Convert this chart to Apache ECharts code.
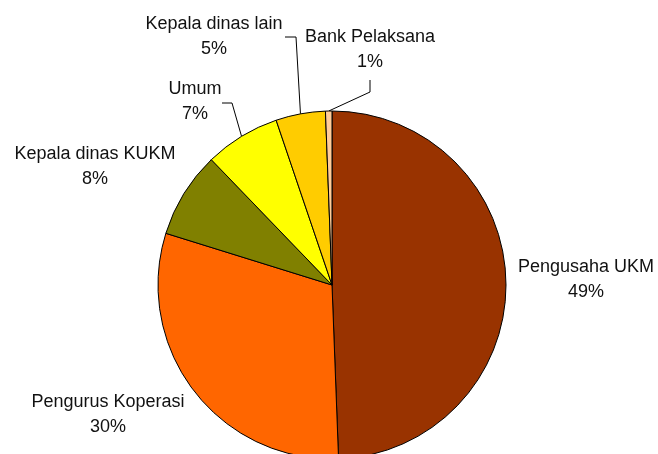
<!DOCTYPE html>
<html>
<head>
<meta charset="utf-8">
<style>
  html, body { margin: 0; padding: 0; background: #fff; }
  #chart { width: 658px; height: 454px; }
</style>
<script src="https://cdn.jsdelivr.net/npm/echarts@6/dist/echarts.min.js"></script>
</head>
<body>
<div id="chart"></div>
<script>
  // data (share of respondents, %)
  var categories = ['Pengusaha UKM', 'Pengurus Koperasi', 'Kepala dinas KUKM', 'Umum', 'Kepala dinas lain', 'Bank Pelaksana']
  var values = [49.4, 30.4, 8.0, 7.0, 4.6, 0.6]

  // styling / layout
  var colors = ['#993300', '#FF6600', '#808000', '#FFFF00', '#FFCC00', '#FFCC99']
  var labelPos = [[586, 280], [108, 415], [95, 167], [195, 102], [214, 37], [370, 50]]
  // leader line bends (after the anchor on the pie edge), null = no line
  var bends = [null, null, null, [[232, 103], [222, 103]], [[296, 37], [285, 37]], [[370, 92], [370, 80]]]

  var chart = echarts.init(document.getElementById('chart'))

  var data = []
  for (var i = 0; i < categories.length; i++) {
    data.push({
      name: categories[i],
      value: values[i],
      itemStyle: { color: colors[i] },
      labelLine: { show: !!bends[i] }
    })
  }

  var option = {
    animation: false,
    backgroundColor: '#fff',
    series: [{
      type: 'pie',
      center: [332, 285],
      radius: 174,
      startAngle: 90,
      clockwise: true,
      percentPrecision: 0,
      avoidLabelOverlap: false,
      itemStyle: { borderColor: '#000', borderWidth: 1 },
      label: {
        show: true,
        position: 'outside',
        formatter: '{b}\n{d}%',
        color: '#111',
        fontFamily: 'Liberation Sans, Arial, sans-serif',
        fontSize: 18,
        lineHeight: 25,
        align: 'center'
      },
      labelLine: {
        lineStyle: { color: '#000', width: 1 }
      },
      labelLayout: function (p) {
        var i = p.dataIndex
        var out = { x: labelPos[i][0], y: labelPos[i][1], align: 'center', verticalAlign: 'middle' }
        if (bends[i] && p.labelLinePoints) {
          out.labelLinePoints = [p.labelLinePoints[0], bends[i][0], bends[i][1]]
        }
        return out
      },
      emphasis: { disabled: true },
      data: data
    }]
  }

  chart.setOption(option)
</script>
</body>
</html>
